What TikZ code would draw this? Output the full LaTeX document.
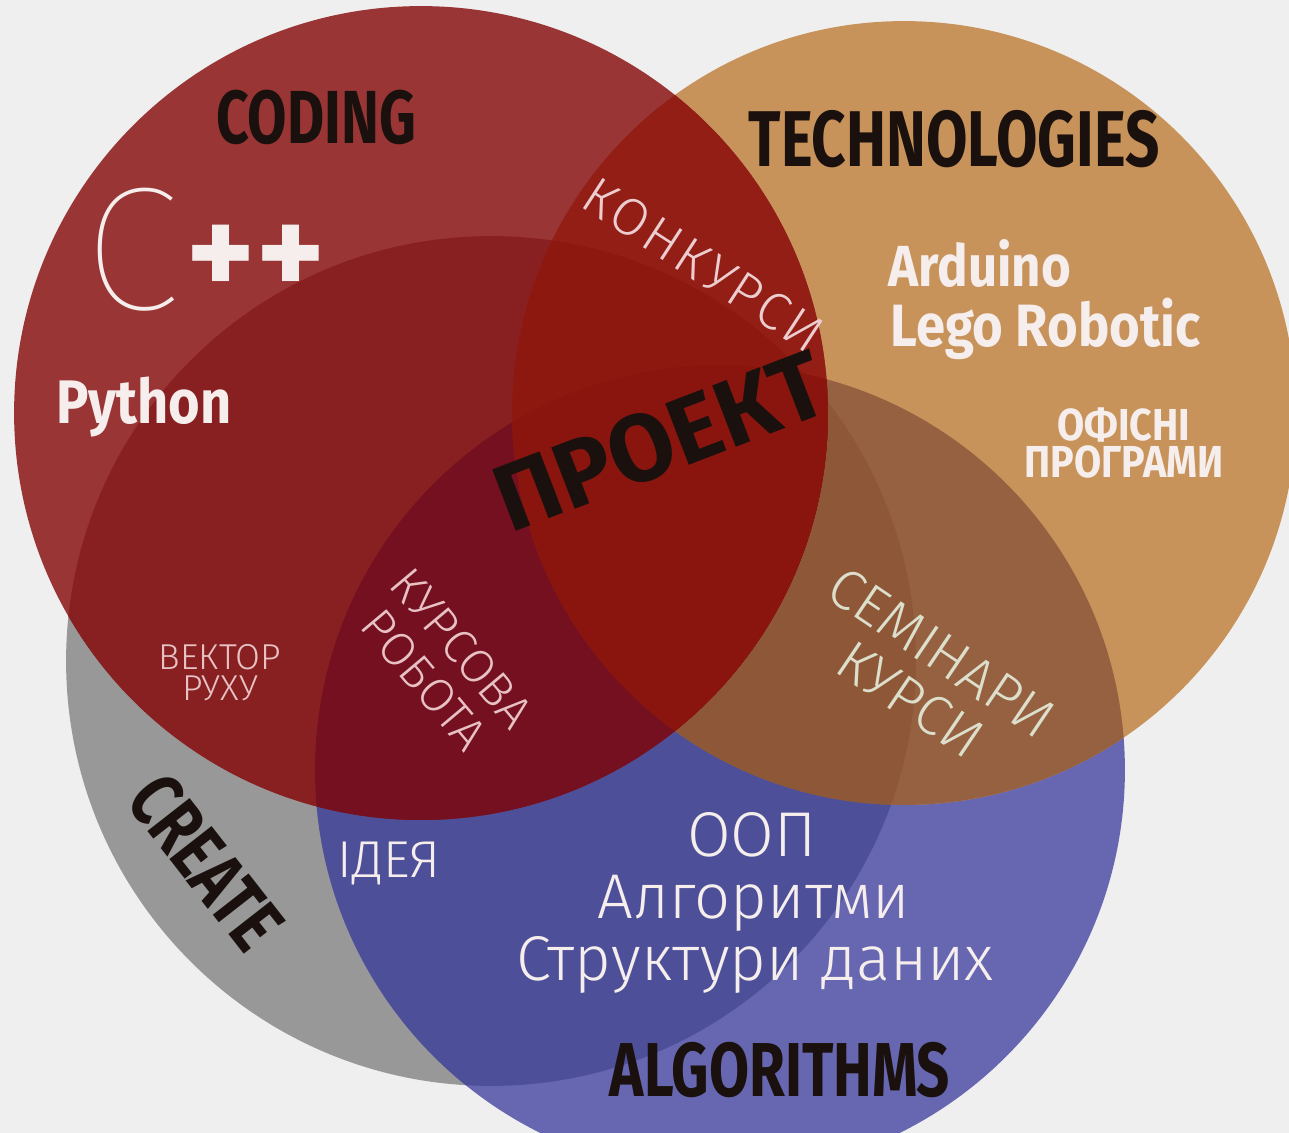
\documentclass[tikz,border=0pt]{standalone}
\usepackage{fontspec}
\setmainfont{Fira Sans}
\newfontfamily\headfont{Fira Sans}[FakeStretch=0.76]
\newfontfamily\semifont{Fira Sans}[FakeStretch=0.88]
\newfontfamily\thinfont{Fira Sans}[UprightFont={* Light}]
\newfontfamily\hairfont{Fira Sans}[UprightFont={* Thin}]
\usepackage{xcolor}
\usetikzlibrary{positioning}
\definecolor{bg}{HTML}{EFEFEF}
\definecolor{cgray}{HTML}{989898}
\definecolor{cblue}{HTML}{6767B1}
\definecolor{ctan}{HTML}{C8935B}
\definecolor{cred}{HTML}{9A3535}
\definecolor{cGB}{HTML}{4D4F98}
\definecolor{cTB}{HTML}{966140}
\definecolor{cTG}{HTML}{8E5838}
\definecolor{cRG}{HTML}{882022}
\definecolor{cRT}{HTML}{921E16}
\definecolor{cRGB}{HTML}{74101F}
\definecolor{cRTG}{HTML}{8C1810}
\definecolor{cAll}{HTML}{8A150E}
\definecolor{ink}{HTML}{1A110E}
\definecolor{paper}{HTML}{F5EEEC}
\definecolor{pinkish}{HTML}{E7C1C4}
\definecolor{sage}{HTML}{DCDFCB}
\newcommand{\sz}[2]{\fontsize{#1}{#2}\selectfont}
\def\rR{8.14cm}
\def\rT{7.84cm}
\def\rB{8.1cm}
\def\rG{8.5cm}
\tikzset{
	head/.style={inner sep=0pt, font=\headfont\bfseries, text=ink},
	plain/.style={inner sep=0pt, font=\semifont\bfseries, text=paper, align=center},
	light/.style={inner sep=0pt, font=\thinfont, align=center}
}

\begin{document}
\begin{tikzpicture}[x=0.02cm, y=-0.02cm]
	\useasboundingbox (0,0) rectangle (1289,1133);
	\fill[bg] (0,0) rectangle (1289,1133);
	\clip (0,0) rectangle (1289,1133);

	\coordinate (cR) at (421,413);
	\coordinate (cT) at (904,413);
	\coordinate (cB) at (720,770);
	\coordinate (cG) at (491,661);

	\fill[cgray] (cG) circle[radius=\rG];
	\fill[cblue] (cB) circle[radius=\rB];
	\fill[ctan] (cT) circle[radius=\rT];
	\fill[cred] (cR) circle[radius=\rR];

	\begin{scope}
		\clip (cG) circle[radius=\rG];
		\fill[cGB] (cB) circle[radius=\rB];
	\end{scope}
	\begin{scope}
		\clip (cT) circle[radius=\rT];
		\fill[cTB] (cB) circle[radius=\rB];
		\fill[cTG] (cG) circle[radius=\rG];
	\end{scope}
	\begin{scope}
		\clip (cR) circle[radius=\rR];
		\fill[cRGB] (cB) circle[radius=\rB];
		\fill[cRG] (cG) circle[radius=\rG];
		\fill[cRT] (cT) circle[radius=\rT];
	\end{scope}
	\begin{scope}
		\clip (cR) circle[radius=\rR];
		\clip (cG) circle[radius=\rG];
		\fill[cRGB] (cB) circle[radius=\rB];
		\fill[cRTG] (cT) circle[radius=\rT];
	\end{scope}
	\begin{scope}
		\clip (cR) circle[radius=\rR];
		\clip (cT) circle[radius=\rT];
		\fill[cAll] (cB) circle[radius=\rB];
	\end{scope}

	\node[head] (coding) at (316,117) {\sz{42.8}{46}CODING};
	\node[head] (tech) at (954,139) {\sz{45}{48}TECHNOLOGIES};
	\node[head, rotate=-52] (create) at (206,862) {\sz{44}{46}CREATE};
	\node[head] (algorithms) at (780,1070) {\sz{43.5}{46}ALGORITHMS};

	\node[inner sep=0pt, font=\hairfont, text=paper, anchor=west] (cletter) at (84,250) {\sz{100}{100}C};
	\node[inner sep=0pt, font=\bfseries, text=paper] (pluses) at (256,261) {\sz{74}{74}++};
	\node[plain, anchor=base west] (python) at (56,423) {\sz{35}{38}Python};
	\node[plain, anchor=base west] (arduino) at (888,286) {\sz{33}{36}Arduino};
	\node[plain, anchor=base west] (lego) at (890,346) {\sz{34}{36}Lego Robotic};
	\node[plain, font={\semifont\bfseries\sz{25.5}{20.5}}] (office) at (1124,443) {ОФІСНІ\\ПРОГРАМИ};

	\node[inner sep=0pt, font=\bfseries, text=ink, rotate=21] (proekt) at (660,441) {\sz{54}{56}ПРОЕКТ};

	\node[light, text=pinkish!80!white, rotate=-33] (konkursy) at (703,265) {\sz{30}{32}\addfontfeatures{LetterSpace=6}КОНКУРСИ};
	\node[light, text=pinkish, rotate=-50, font={\thinfont\sz{27}{28}}] (kursova) at (443,664) {КУРСОВА\\РОБОТА};
	\node[light, text=sage, rotate=-34, font={\thinfont\sz{32}{32}}] (seminary) at (926,676) {СЕМІНАРИ\\КУРСИ};
	\node[light, text=pinkish, font={\thinfont\sz{20.5}{17.6}}] (vektor) at (220,673) {ВЕКТОР\\РУХУ};
	\node[light, text=paper] (ideya) at (389,863) {\sz{29.5}{32}ІДЕЯ};

	\node[light, text=paper, anchor=base] (oop) at (752,856) {\sz{36}{38}ООП};
	\node[light, text=paper, anchor=base] (algo) at (754,918) {\sz{36}{38}Алгоритми};
	\node[light, text=paper, anchor=base] (struct) at (755,980) {\sz{36}{38}Структури даних};
\end{tikzpicture}
\end{document}
